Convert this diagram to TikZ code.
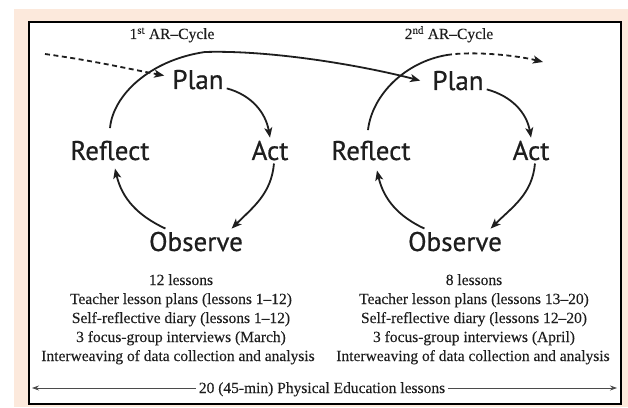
\documentclass[tikz,border=0pt]{standalone}
\usepackage{fontspec}
\setmainfont{Liberation Serif}[FakeBold=0.15]
\newfontfamily\labelfont{PT Sans}[FakeBold=0.6]
\usetikzlibrary{arrows.meta,calc}
\definecolor{peach}{RGB}{252,233,220}
\definecolor{ink}{RGB}{30,30,30}
\begin{document}
\begin{tikzpicture}[x=1pt,y=1pt,
  lab/.style={font=\labelfont\fontsize{27}{30}\selectfont, inner sep=3pt, text=ink, anchor=base},
  ser/.style={font=\fontsize{15.5}{19}\selectfont, inner sep=1pt, text=ink, anchor=base},
  cyc/.style={line width=1.8pt, draw=ink, -{Stealth[length=10pt,width=8pt,inset=2.5pt]}},
  cycline/.style={line width=1.8pt, draw=ink},
  dashcyc/.style={line width=1.8pt, draw=ink, dash pattern=on 5pt off 3.5pt, -{Stealth[length=10pt,width=8pt,inset=2.5pt]}},
  timeline/.style={line width=0.8pt, draw=ink!80, -{Stealth[length=7pt,width=5pt]}},
 ]
\useasboundingbox (0,0) rectangle (628,407);
\fill[white] (0,0) rectangle (628,407);
\fill[peach] (14,0) rectangle (628,398);
\filldraw[fill=white, draw=black, line width=1.6pt] (29,3) rectangle (621,385);

% titles
\node[ser] (t1) at (172,368) {1\textsuperscript{st} AR–Cycle};
\node[ser] (t2) at (449,368) {2\textsuperscript{nd} AR–Cycle};

% cycle labels
\node[lab] (plan1) at (198,318) {Plan};
\node[lab] (reflect1) at (110,247) {Reflect};
\node[lab] (act1) at (270,247) {Act};
\node[lab] (obs1) at (196,156) {Observe};

\node[lab] (plan2) at (458,317) {Plan};
\node[lab] (reflect2) at (371,247) {Reflect};
\node[lab] (act2) at (531,247) {Act};
\node[lab] (obs2) at (455,156) {Observe};

% cycle 1 arrows
\draw[cyc] (plan1.-17) to[out=-15,in=100] (act1.north);
\draw[cyc] (act1.-73) to[out=-95,in=45] (obs1.20);
\draw[cyc] (obs1.157) to[out=155,in=-77] ([xshift=5pt,yshift=-5pt]reflect1.south);
\draw[cyc] ([yshift=9.5pt]reflect1.north) .. controls (113,312) and (150,347) .. (205,355)
  .. controls (270,357) and (360,342) .. ([xshift=-9pt]plan2.west);
\coordinate (in1) at (45,353);
\draw[dashcyc] (in1) to[out=-8,in=169] ([xshift=-5pt,yshift=4pt]plan1.west);

% cycle 2 arrows
\draw[cyc] (plan2.-17) to[out=-15,in=100] (act2.north);
\draw[cyc] (act2.-73) to[out=-95,in=45] (obs2.20);
\draw[cyc] (obs2.157) to[out=155,in=-77] ([xshift=6pt,yshift=-7pt]reflect2.south);
\coordinate (split2) at (447,352);
\coordinate (out2) at (543,345);
\draw[cycline] ([xshift=-3pt,yshift=7.5pt]reflect2.north) .. controls (372,312) and (405,345) .. (split2);
\draw[dashcyc] (split2) .. controls (472,356) and (515,352) .. (out2);

% lists
\node[ser] (l1a) at (181,122) {12 lessons};
\node[ser] (l1b) at (181,103) {Teacher lesson plans (lessons 1–12)};
\node[ser] (l1c) at (181,84) {Self-reflective diary (lessons 1–12)};
\node[ser] (l1d) at (181,65) {3 focus-group interviews (March)};
\node[ser] (l1e) at (178,46) {Interweaving of data collection and analysis};

\node[ser] (l2a) at (474,122) {8 lessons};
\node[ser] (l2b) at (474,103) {Teacher lesson plans (lessons 13–20)};
\node[ser] (l2c) at (474,84) {Self-reflective diary (lessons 12–20)};
\node[ser] (l2d) at (474,65) {3 focus-group interviews (April)};
\node[ser] (l2e) at (473,46) {Interweaving of data collection and analysis};

% timeline
\node[ser, fill=white, inner xsep=3pt] (tl) at (322,14) {20 (45-min) Physical Education lessons};
\coordinate (tlL) at (32,19);
\coordinate (tlR) at (617,19);
\draw[timeline] (tl.west |- tlL) -- (tlL);
\draw[timeline] (tl.east |- tlR) -- (tlR);
\end{tikzpicture}
\end{document}
